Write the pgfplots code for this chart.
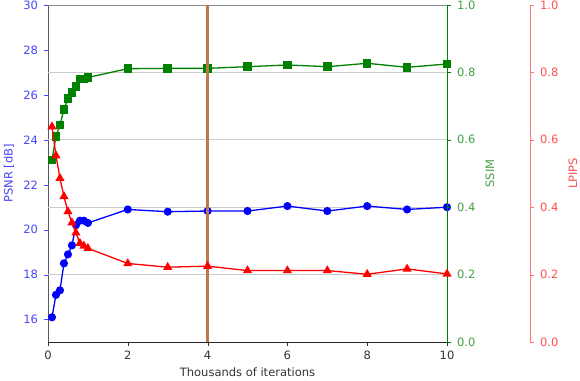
\documentclass[border=0pt]{standalone}
\usepackage{fontspec}
\setmainfont{DejaVu Sans}
\usepackage{pgfplots}
\pgfplotsset{compat=1.18}
\definecolor{psnrC}{RGB}{0,0,255}
\definecolor{psnrT}{RGB}{70,70,250}
\definecolor{ssimC}{RGB}{0,128,0}
\definecolor{ssimT}{RGB}{70,160,70}
\definecolor{lpipsC}{RGB}{255,0,0}
\definecolor{lpipsT}{RGB}{255,80,80}
\definecolor{lpipsS}{RGB}{255,120,120}
\definecolor{vline}{RGB}{188,118,80}

\pgfplotstableread{
x psnr ssim lpips
0.1 16.1 0.540 0.639
0.2 17.1 0.610 0.553
0.3 17.3 0.644 0.486
0.4 18.5 0.690 0.432
0.5 18.9 0.723 0.387
0.6 19.3 0.740 0.354
0.7 20.2 0.758 0.324
0.8 20.4 0.780 0.293
0.9 20.4 0.781 0.285
1.0 20.3 0.785 0.278
2 20.9 0.811 0.233
3 20.8 0.812 0.222
4 20.83 0.812 0.225
5 20.83 0.817 0.212
6 21.05 0.822 0.212
7 20.83 0.817 0.212
8 21.05 0.827 0.201
9 20.9 0.815 0.217
10 21.0 0.825 0.202
}\data

\newcommand\lblfont{\fontsize{11.5}{13}\selectfont}

\begin{document}
\begin{tikzpicture}
\pgfplotsset{
  common/.style={
    scale only axis, width=399pt, height=337pt,
    xmin=0, xmax=10,
    /pgf/number format/assume math mode=true,
    tick align=outside, major tick length=3.5pt,
    tick label style={font=\lblfont},
  },
}
% PSNR
\begin{axis}[common,
  ymin=15, ymax=30,
  axis x line*=bottom, axis y line*=left,
  xtick={0,2,...,10}, ytick={16,18,...,30},
  x axis line style={draw=black!85},
  y axis line style={draw=black!65},
  xticklabel style={text=black!80, yshift=-2pt},
  yticklabel style={text=psnrT, xshift=-3pt},
  xtick style={draw=black!80}, ytick style={draw=psnrT},
  extra y ticks={18,21,24,27}, extra y tick labels={,,,},
  extra y tick style={grid=major, major tick length=0pt},
  major grid style={draw=gray!40, line width=1.4pt},
  xlabel={Thousands of iterations},
  every axis x label/.style={at={(axis description cs:0.5,-0.089)}, anchor=center, text=black!80, font=\lblfont},
  ylabel={PSNR [dB]},
  every axis y label/.style={at={(axis description cs:-0.0977,0.5)}, rotate=90, anchor=center, text=psnrT, font=\lblfont},
]
\addplot[psnrC, line width=1.3pt, mark=*, mark size=3.4pt] table[x=x, y=psnr] {\data};
\coordinate (sw) at (rel axis cs:0,0);
\coordinate (ne) at (rel axis cs:1,1);
\end{axis}
% SSIM
\begin{axis}[common,
  ymin=0, ymax=1,
  axis x line*=top, axis y line*=right,
  xtick=\empty, ytick={0,0.2,0.4,0.6,0.8,1},
  x axis line style={draw=black!45},
  y axis line style={draw=ssimC},
  ytick style={draw=ssimC},
  yticklabel style={text=ssimT, xshift=3pt, /pgf/number format/.cd, fixed, fixed zerofill, precision=1},
  ylabel={SSIM},
  every axis y label/.style={at={(axis description cs:1.1078,0.5)}, rotate=90, anchor=center, text=ssimT, font=\lblfont},
]
\addplot[ssimC, line width=1.3pt, mark=square*, mark size=3.6pt] table[x=x, y=ssim] {\data};
\end{axis}
% LPIPS
\begin{axis}[common,
  ymin=0, ymax=1,
  axis x line=none, axis y line*=right,
  ytick={0,0.2,0.4,0.6,0.8,1},
  y axis line style={draw=lpipsS, line width=1pt, xshift=83pt},
  every y tick/.append style={draw=lpipsS, xshift=83pt},
  yticklabel style={text=lpipsT, xshift=86pt, /pgf/number format/.cd, fixed, fixed zerofill, precision=1},
  ylabel={LPIPS},
  every axis y label/.style={at={(axis description cs:1.3158,0.5)}, rotate=90, anchor=center, text=lpipsT, font=\lblfont},
]
\addplot[lpipsC, line width=1.3pt, mark=triangle*, mark size=4pt] table[x=x, y=lpips] {\data};
\addplot[vline, line width=3pt] coordinates {(4,0) (4,1)};
\end{axis}
\pgfresetboundingbox
\path[use as bounding box] ([shift={(-48pt,-38pt)}]sw) rectangle ([shift={(133pt,5pt)}]ne);
\end{tikzpicture}
\end{document}
